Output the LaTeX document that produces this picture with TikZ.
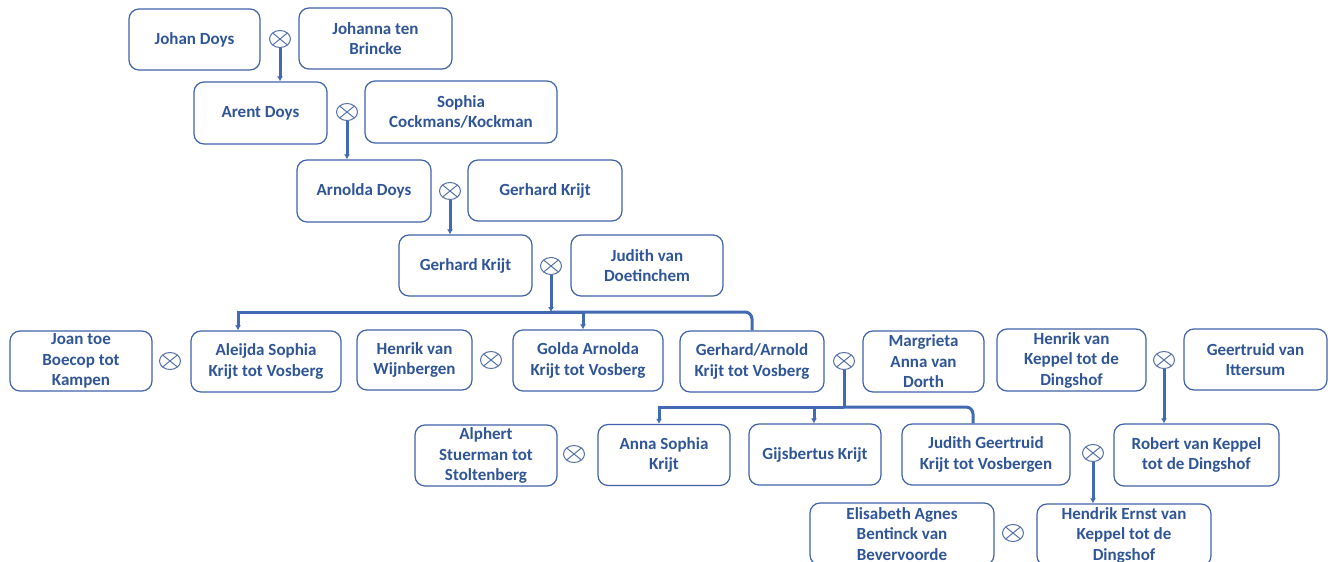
\documentclass[tikz,border=0pt]{standalone}
\usepackage{fontspec}
\setmainfont{Carlito}
\usetikzlibrary{arrows.meta,shapes.geometric,calc}
\definecolor{txtc}{HTML}{2F5597}
\definecolor{brd}{HTML}{3F62AA}
\definecolor{conc}{HTML}{4169B4}
\definecolor{marc}{HTML}{5571A8}
\tikzset{
  box/.style={draw=brd, line width=1.2pt, rounded corners=10pt, align=center,
    font=\fontsize{17}{20.5}\selectfont\bfseries, text=txtc, inner sep=0pt},
  marr/.style={shape=ellipse, draw=marc, line width=1pt, minimum width=21pt,
    minimum height=17pt, inner sep=0pt,
    path picture={
      \draw[marc, line width=1pt]
        ($(path picture bounding box.center)!0.707!(path picture bounding box.north west)$) --
        ($(path picture bounding box.center)!0.707!(path picture bounding box.south east)$)
        ($(path picture bounding box.center)!0.707!(path picture bounding box.north east)$) --
        ($(path picture bounding box.center)!0.707!(path picture bounding box.south west)$);}},
  conn/.style={draw=conc, line width=3pt},
  arr/.style={conn, -{Latex[length=5pt,width=6pt]}},
}
\begin{document}
\begin{tikzpicture}[x=1pt,y=-1pt]
\useasboundingbox (0,0) rectangle (1331,562);
\clip (0,0) rectangle (1331,562);
% row 1
\node[box, minimum width=131, minimum height=61] (johan) at (194.5,39.5) {Johan Doys};
\node[marr] (m1) at (280,39) {};
\node[box, minimum width=153, minimum height=61] (johanna) at (375.5,38.5) {Johanna ten\\Brincke};
% row 2
\node[box, minimum width=133, minimum height=62] (arent) at (260.5,113) {Arent Doys};
\node[marr] (m2) at (347,112) {};
\node[box, minimum width=192, minimum height=62] (sophia) at (461,112) {Sophia\\Cockmans/Kockman};
% row 3
\node[box, minimum width=134, minimum height=62] (arnolda) at (364,191) {Arnolda Doys};
\node[marr] (m3) at (450,191) {};
\node[box, minimum width=154, minimum height=61] (gerhard1) at (545,190.5) {Gerhard Krijt};
% row 4
\node[box, minimum width=133, minimum height=61] (gerhard2) at (465.5,265.5) {Gerhard Krijt};
\node[marr] (m4) at (551,266) {};
\node[box, minimum width=152, minimum height=61] (judithvd) at (647,265.5) {Judith van\\Doetinchem};
% row 5
\node[box, minimum width=142, minimum height=60] (joan) at (81,361) {Joan toe\\Boecop tot\\Kampen};
\node[marr] (m5) at (170,361) {};
\node[box, minimum width=150, minimum height=61] (aleijda) at (266,361.5) {Aleijda Sophia\\Krijt tot Vosberg};
\node[box, minimum width=115, minimum height=60] (henrikw) at (414.5,360) {Henrik van\\Wijnbergen};
\node[marr] (m6) at (491,360) {};
\node[box, minimum width=150, minimum height=61] (golda) at (588,360.5) {Golda Arnolda\\Krijt tot Vosberg};
\node[box, minimum width=144, minimum height=61] (gerarn) at (752,361.5) {Gerhard/Arnold\\Krijt tot Vosberg};
\node[marr] (m7) at (844,361) {};
\node[box, minimum width=121, minimum height=61] (margrieta) at (923.5,361.5) {Margrieta\\Anna van\\Dorth};
\node[box, minimum width=149, minimum height=62] (henrikk) at (1071.5,360) {Henrik van\\Keppel tot de\\Dingshof};
\node[marr] (m8) at (1164,360) {};
\node[box, minimum width=143, minimum height=61] (geertruid) at (1255.5,359.5) {Geertruid van\\Ittersum};
% row 6
\node[box, minimum width=142, minimum height=61] (alphert) at (486,455.5) {Alphert\\Stuerman tot\\Stoltenberg};
\node[marr] (m9) at (574,454) {};
\node[box, minimum width=132, minimum height=61] (anna) at (664,455) {Anna Sophia\\Krijt};
\node[box, minimum width=132, minimum height=61] (gijs) at (815,454.5) {Gijsbertus Krijt};
\node[box, minimum width=168, minimum height=61] (judithg) at (986,454.5) {Judith Geertruid\\Krijt tot Vosbergen};
\node[marr] (m10) at (1093,453) {};
\node[box, minimum width=165, minimum height=62] (robert) at (1196.5,455) {Robert van Keppel\\tot de Dingshof};
% row 7
\node[box, minimum width=184, minimum height=62] (elisabeth) at (902,534) {Elisabeth Agnes\\Bentinck van\\Bevervoorde};
\node[marr] (m11) at (1013,533) {};
\node[box, minimum width=174, minimum height=62] (hendrik) at (1124,535) {Hendrik Ernst van\\Keppel tot de\\Dingshof};
% connectors
\draw[arr] (m1.south) -- (m1.south |- arent.north);
\draw[arr] (m2.south) -- (m2.south |- arnolda.north);
\draw[arr] (m3.south) -- (m3.south |- gerhard2.north);
\coordinate (b1) at (551,312);
\draw[arr] (m4.south) -- (b1);
\draw[arr] (b1) -| ([xshift=-28pt]aleijda.north);
\draw[arr] (b1) -| ([xshift=-5pt]golda.north);
\draw[conn, rounded corners=7pt] (b1) -| (gerarn.north);
\coordinate (b2) at (844,407);
\draw[conn] (m7.south) -- (b2);
\draw[arr] (b2) -| ([xshift=-5pt]anna.north);
\draw[arr] (b2) -| ([xshift=-1pt]gijs.north);
\draw[conn, rounded corners=7pt] (b2) -| ([xshift=-13pt]judithg.north);
\draw[arr] (m8.south) -- (m8.south |- robert.north);
\draw[arr] (m10.south) -- (m10.south |- hendrik.north);
\end{tikzpicture}
\end{document}
